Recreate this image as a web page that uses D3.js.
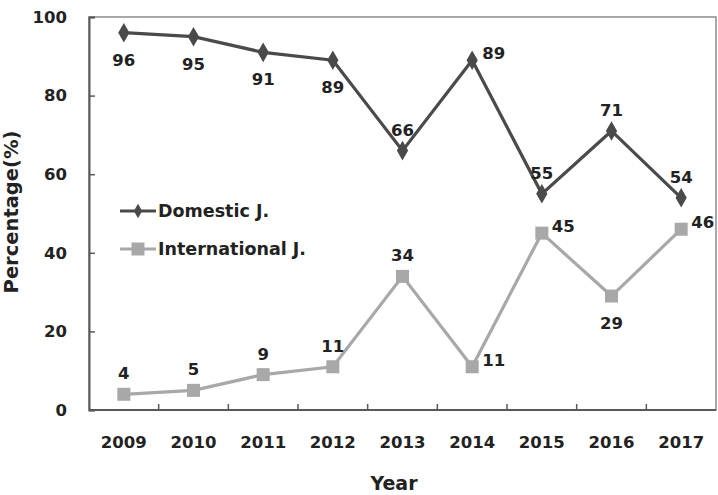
<!DOCTYPE html>
<html>
<head>
<meta charset="utf-8">
<script src="https://cdn.jsdelivr.net/npm/d3@7"></script>
<style>
  body { margin: 0; background: #fff; }
  text { font-family: "DejaVu Sans", "Noto Sans", sans-serif; font-weight: bold; fill: #222; }
</style>
</head>
<body>
<svg width="718" height="495"></svg>
<script>
// chart data
var years = ["2009", "2010", "2011", "2012", "2013", "2014", "2015", "2016", "2017"];
var domestic = [96, 95, 91, 89, 66, 89, 55, 71, 54];
var international = [4, 5, 9, 11, 34, 11, 45, 29, 46];
var yTicks = [0, 20, 40, 60, 80, 100];
// where each value label sits relative to its point
var domPos = ["below", "below", "below", "below", "above", "right", "above", "above", "above"];
var intPos = ["above", "above", "above", "above", "above", "right", "right", "below", "right"];

var svg = d3.select("svg"),
    margin = {top: 17, right: 2, bottom: 85, left: 89},
    width = 718 - margin.left - margin.right,
    height = 495 - margin.top - margin.bottom;

var x = d3.scaleBand().domain(years).range([0, width]),
    y = d3.scaleLinear().domain([0, 100]).range([height, 0]);

var g = svg.append("g")
    .attr("transform", "translate(" + margin.left + "," + margin.top + ")");

// frame
g.append("rect")
    .attr("width", width).attr("height", height)
    .attr("fill", "none").attr("stroke", "#8c8c8c").attr("stroke-width", 1.5);

// y axis, ticks pointing inward
var yAxis = g.append("g")
    .call(d3.axisLeft(y).tickValues(yTicks).tickSize(-6).tickPadding(22));
yAxis.select(".domain").attr("stroke", "#595959").attr("stroke-width", 2);
yAxis.selectAll("line").attr("stroke", "#595959").attr("stroke-width", 1.5);
yAxis.selectAll("text").style("font-size", "16.5px").attr("fill", "#222");

// x axis, ticks between categories pointing up
var xAxis = g.append("g").attr("transform", "translate(0," + height + ")");
xAxis.append("line").attr("x2", width).attr("stroke", "#595959").attr("stroke-width", 2);
xAxis.selectAll(".tk").data(years.slice(1)).enter().append("line")
    .attr("x1", function(d) { return x(d); }).attr("x2", function(d) { return x(d); })
    .attr("y1", 0).attr("y2", -6)
    .attr("stroke", "#595959").attr("stroke-width", 1.5);
xAxis.selectAll(".lbl").data(years).enter().append("text")
    .attr("x", function(d) { return x(d) + x.bandwidth() / 2; })
    .attr("y", 38)
    .attr("text-anchor", "middle")
    .style("font-size", "16.5px")
    .text(function(d) { return d; });

// axis titles
svg.append("text")
    .attr("transform", "translate(18,212) rotate(-90)")
    .attr("text-anchor", "middle")
    .style("font-size", "19.5px")
    .text("Percentage(%)");
svg.append("text")
    .attr("x", 394).attr("y", 490)
    .attr("text-anchor", "middle")
    .style("font-size", "19px")
    .text("Year");

var cx = function(i) { return x(years[i]) + x.bandwidth() / 2; };
var line = d3.line()
    .x(function(d, i) { return cx(i); })
    .y(function(d) { return y(d); });

var domColor = "#4a4a4a", intColor = "#a8a8a8";

// international series
g.append("path").datum(international)
    .attr("d", line).attr("fill", "none")
    .attr("stroke", intColor).attr("stroke-width", 3.2);
g.selectAll(".sq").data(international).enter().append("rect")
    .attr("x", function(d, i) { return cx(i) - 6.5; })
    .attr("y", function(d) { return y(d) - 6.5; })
    .attr("width", 13).attr("height", 13)
    .attr("fill", intColor);

// domestic series
g.append("path").datum(domestic)
    .attr("d", line).attr("fill", "none")
    .attr("stroke", domColor).attr("stroke-width", 3.2);
var diamond = d3.symbol().type(d3.symbolDiamond).size(110);
g.selectAll(".dm").data(domestic).enter().append("path")
    .attr("d", diamond)
    .attr("transform", function(d, i) { return "translate(" + cx(i) + "," + y(d) + ")"; })
    .attr("fill", domColor);

// value labels
function labels(data, pos) {
  g.selectAll(null).data(data).enter().append("text")
    .attr("x", function(d, i) { return pos[i] === "right" ? cx(i) + 10 : cx(i); })
    .attr("y", function(d, i) {
      if (pos[i] === "below") return y(d) + 33;
      if (pos[i] === "above") return y(d) - 15;
      return y(d) - 1;
    })
    .attr("text-anchor", function(d, i) { return pos[i] === "right" ? "start" : "middle"; })
    .style("font-size", "16.5px")
    .text(function(d) { return d; });
}
labels(domestic, domPos);
labels(international, intPos);

// legend
var legend = [{name: "Domestic J.", color: domColor, shape: "diamond"},
              {name: "International J.", color: intColor, shape: "square"}];
var lg = svg.selectAll(".legend").data(legend).enter().append("g")
    .attr("transform", function(d, i) { return "translate(120," + (211 + i * 38) + ")"; });
lg.append("line").attr("x2", 36)
    .attr("stroke", function(d) { return d.color; }).attr("stroke-width", 3);
lg.append("path")
    .attr("d", function(d) {
      return d.shape === "diamond" ? d3.symbol().type(d3.symbolDiamond).size(60)()
                                   : "M-6.5,-6.5h13v13h-13z";
    })
    .attr("transform", "translate(18,0)")
    .attr("fill", function(d) { return d.color; });
lg.append("text")
    .attr("x", 38).attr("y", 6)
    .style("font-size", "17.5px")
    .text(function(d) { return d.name; });
</script>
</body>
</html>
